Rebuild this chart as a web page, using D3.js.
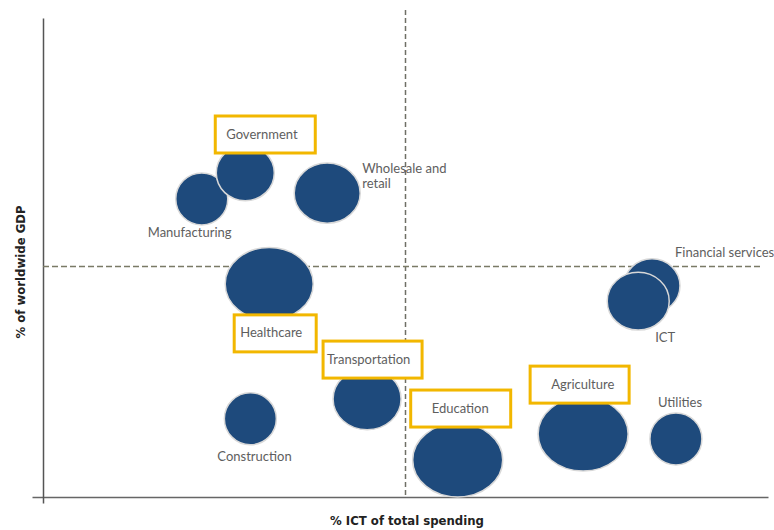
<!DOCTYPE html>
<html>
<head>
<meta charset="utf-8">
<script src="https://cdn.jsdelivr.net/npm/d3@7"></script>
<style>
  body { margin: 0; background: #fff; }
  .lbl { font-family: Lato, "Open Sans", sans-serif; font-size: 13px; fill: #5e5e5e; }
  .axis-title { font-family: "Liberation Sans Narrow", "DejaVu Sans Condensed", "Liberation Sans", sans-serif; font-weight: bold; font-size: 13px; fill: #222; }
</style>
</head>
<body>
<div id="chart"></div>
<script>
// sectors, % ICT of total spending (x), % of worldwide GDP (y), bubble size
var sectors = ["Manufacturing", "Government", "Wholesale and retail", "Healthcare",
  "Financial services", "ICT", "Transportation", "Construction", "Education",
  "Agriculture", "Utilities"];
var ictSpend = [21.9, 27.9, 39.2, 31.2, 84.0, 82.1, 44.7, 28.6, 57.2, 74.5, 87.3];
var gdpShare = [62.1, 67.5, 63.3, 44.4, 44.0, 40.8, 20.4, 16.3, 7.7, 13.1, 12.1];
var bubbleSize = [26, 29, 33, 44, 28, 31, 34, 26, 45, 45, 26];
var highlighted = ["Government", "Healthcare", "Transportation", "Education", "Agriculture"];
var avgIct = 50, avgGdp = 48;

var W = 774, H = 530;
var margin = {top: 17, right: 6, bottom: 33, left: 43};

var x = d3.scaleLinear().domain([0, 100]).range([margin.left, W - margin.right]);
var y = d3.scaleLinear().domain([0, 100]).range([H - margin.bottom, margin.top]);
var rx = d3.scaleLinear().domain([26, 45]).range([26, 45]);
var ry = d3.scaleLinear().domain([26, 45]).range([26, 37]);

// label placement, relative to bubble centre; box = left pad and width of the frame
var labelPos = {
  "Manufacturing": {dx: -54, dy: 34},
  "Government": {dx: -19, dy: -39, pad: 11, w: 100},
  "Wholesale and retail": {dx: 35, dy: -25},
  "Healthcare": {dx: -29, dy: 49, pad: 6, w: 82},
  "Financial services": {dx: 23, dy: -33},
  "ICT": {dx: 17, dy: 36},
  "Transportation": {dx: -40, dy: -40, pad: 4, w: 99},
  "Construction": {dx: -33, dy: 38},
  "Education": {dx: -26, dy: -52, pad: 21, w: 100},
  "Agriculture": {dx: -32, dy: -50, pad: 21, w: 99},
  "Utilities": {dx: -18, dy: -36}
};

var data = sectors.map(function(s, i) {
  return {name: s, x: ictSpend[i], y: gdpShare[i], size: bubbleSize[i]};
});

var svg = d3.select("#chart").append("svg")
  .attr("width", W).attr("height", H);

// axes (no ticks)
var xAxisScale = x.copy().domain([x.invert(32), x.invert(768)]).range([32, 768]);
var yAxisScale = y.copy().domain([y.invert(503), y.invert(18)]).range([503, 18]);

var xAxis = svg.append("g")
  .attr("transform", "translate(0," + y(0) + ")")
  .call(d3.axisBottom(xAxisScale).tickValues([]).tickSizeOuter(0));
xAxis.select(".domain").attr("stroke", "#666").attr("stroke-width", 1.5);

var yAxis = svg.append("g")
  .attr("transform", "translate(" + x(0) + ",0)")
  .call(d3.axisLeft(yAxisScale).tickValues([]).tickSizeOuter(0));
yAxis.select(".domain").attr("stroke", "#555").attr("stroke-width", 1.5);

// average lines
svg.append("line")
  .attr("x1", x(avgIct)).attr("x2", x(avgIct))
  .attr("y1", 10).attr("y2", y(0))
  .attr("stroke", "#6f6f66").attr("stroke-width", 1.5)
  .attr("stroke-dasharray", "5,3");
svg.append("line")
  .attr("x1", x(0)).attr("x2", 762)
  .attr("y1", y(avgGdp)).attr("y2", y(avgGdp))
  .attr("stroke", "#7a7a66").attr("stroke-width", 1.5)
  .attr("stroke-dasharray", "6,3");

// bubbles
svg.append("g").selectAll("ellipse")
  .data(data)
  .enter().append("ellipse")
  .attr("cx", function(d) { return x(d.x); })
  .attr("cy", function(d) { return y(d.y); })
  .attr("rx", function(d) { return rx(d.size); })
  .attr("ry", function(d) { return ry(d.size); })
  .attr("fill", "#1e4a7c")
  .attr("stroke", "#d8d8d8")
  .attr("stroke-width", 1.5);

// labels
var lg = svg.append("g");
data.forEach(function(d) {
  var p = labelPos[d.name];
  var lx = x(d.x) + p.dx, ly = y(d.y) + p.dy;
  var lines = d.name == "Wholesale and retail" ? ["Wholesale and", "retail"] : [d.name];
  var t = lg.append("text").attr("class", "lbl")
    .attr("x", lx).attr("y", ly);
  lines.forEach(function(l, i) {
    t.append("tspan").attr("x", lx).attr("dy", i == 0 ? "0.35em" : "15").text(l);
  });
  if (highlighted.indexOf(d.name) >= 0) {
    lg.insert("rect", "text")
      .attr("x", lx - p.pad).attr("y", ly - 18)
      .attr("width", p.w).attr("height", 37)
      .attr("fill", "#fff")
      .attr("stroke", "#f2b700").attr("stroke-width", 3);
  }
});

// axis titles
svg.append("text").attr("class", "axis-title")
  .attr("x", 407).attr("y", 525)
  .attr("text-anchor", "middle")
  .text("% ICT of total spending");
svg.append("text").attr("class", "axis-title")
  .attr("transform", "translate(25,272) rotate(-90)")
  .attr("text-anchor", "middle")
  .text("% of worldwide GDP");
</script>
</body>
</html>
